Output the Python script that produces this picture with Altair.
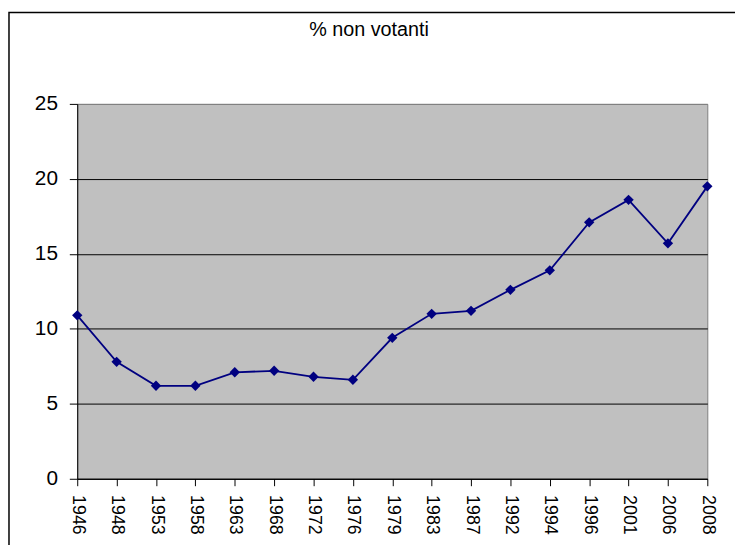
import altair as alt
import pandas as pd

years = ["1946", "1948", "1953", "1958", "1963", "1968", "1972", "1976", "1979",
         "1983", "1987", "1992", "1994", "1996", "2001", "2006", "2008"]
non_voters = [10.9, 7.8, 6.2, 6.2, 7.1, 7.2, 6.8, 6.6, 9.4,
              11.0, 11.2, 12.6, 13.9, 17.1, 18.6, 15.7, 19.5]
y_ticks = [0, 5, 10, 15, 20, 25]
title_text = ["% non votanti"]

df = pd.DataFrame({"anno": years, "pct": non_voters})
FONT = "Liberation Sans"
NAVY = "#000080"

x_enc = alt.X(
    "anno:O", sort=years, title=None,
    scale=alt.Scale(type="point", padding=0),
    axis=alt.Axis(labelAngle=90, labelFontSize=18, labelFont=FONT, labelColor="black",
                  tickSize=7, tickColor="black", domainColor="black", labelPadding=9,
                  grid=False),
)
y_enc = alt.Y(
    "pct:Q", title=None,
    scale=alt.Scale(domain=[0, 25], nice=False),
    axis=alt.Axis(values=y_ticks, labelFontSize=21, labelFont=FONT, labelColor="black",
                  tickSize=8, tickColor="black", domainColor="black", labelPadding=12,
                  grid=True,
                  gridColor=alt.condition(alt.datum.value == 25, alt.value("#808080"), alt.value("black")),
                  gridOpacity=1),
)

line = alt.Chart(df).mark_line(color=NAVY, strokeWidth=1.8).encode(x=x_enc, y=y_enc)
pts = alt.Chart(df).mark_point(shape="diamond", filled=True, color=NAVY, size=110, opacity=1).encode(
    x=x_enc, y=y_enc)

frame = alt.Chart(pd.DataFrame({"k": [0]})).mark_rect(
    fill=None, stroke="black", strokeWidth=1.5
).encode(
    x=alt.value(-69), x2=alt.value(700), y=alt.value(-92.5), y2=alt.value(520)
)

title = alt.Chart(pd.DataFrame({"t": title_text})).mark_text(
    font=FONT, fontSize=20, color="black", align="center", baseline="alphabetic"
).encode(text="t:N", x=alt.value(295), y=alt.value(-69))

chart = alt.layer(frame, line, pts, title).properties(
    width=637, height=379,
    background="white",
    autosize=alt.AutoSizeParams(type="none"),
    padding={"left": 70, "top": 94, "right": 28, "bottom": 64},
).configure_view(
    fill="#C0C0C0", stroke="#808080", strokeWidth=1
)

chart.save("out.html", embed_options={"renderer": "svg", "actions": False})
